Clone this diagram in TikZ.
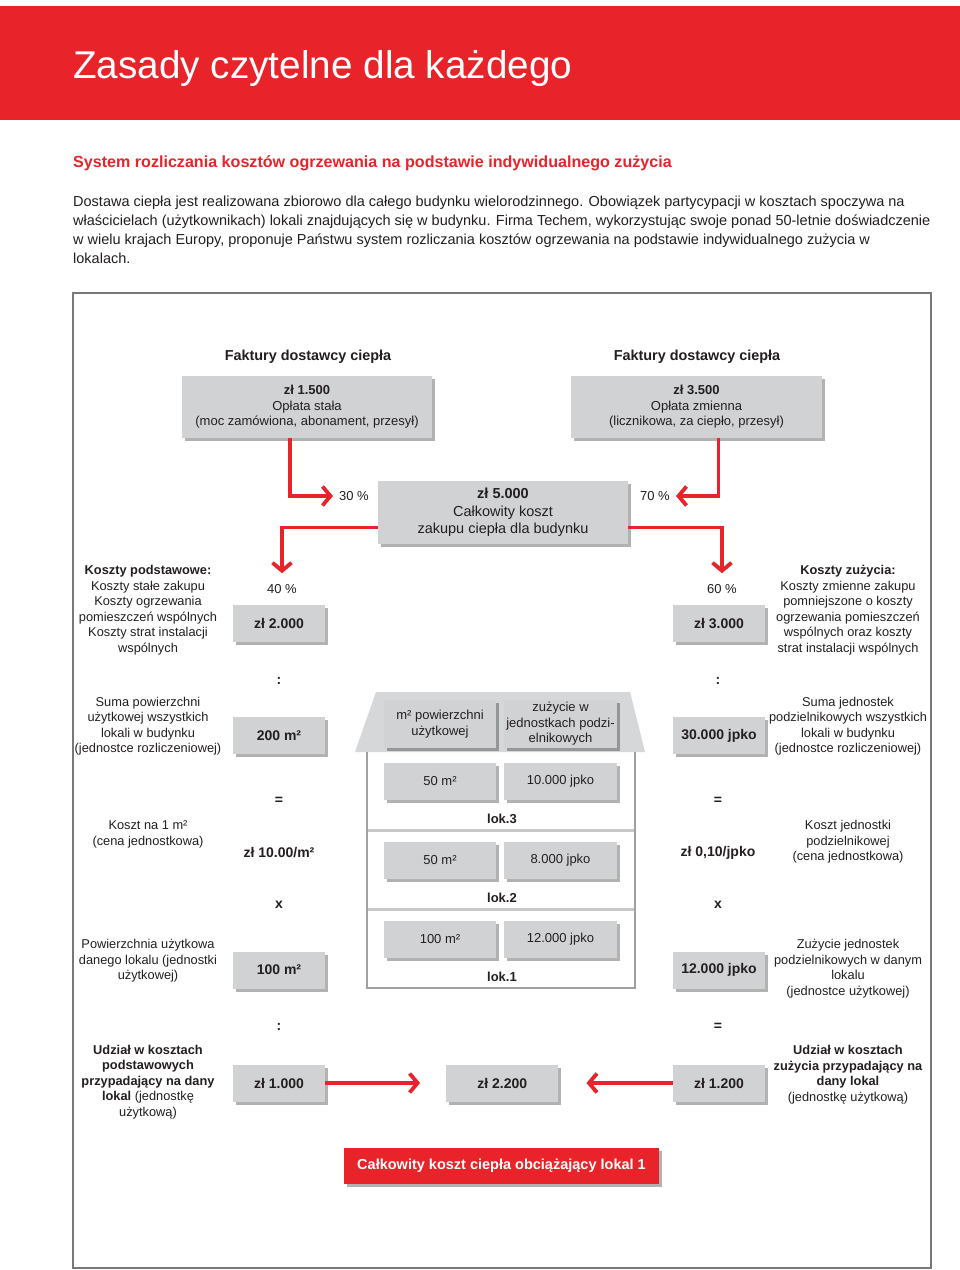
\documentclass[tikz,border=0pt]{standalone}
\usepackage{fontspec}
\setmainfont{Liberation Sans}
\usetikzlibrary{arrows.meta,shadows}
\definecolor{tred}{RGB}{232,35,42}
\definecolor{boxgray}{RGB}{209,210,212}
\definecolor{roofgray}{RGB}{214,215,216}
\definecolor{txt}{RGB}{35,31,32}
\definecolor{framec}{RGB}{120,120,120}
\definecolor{wallc}{RGB}{160,160,160}
\definecolor{floorc}{RGB}{200,200,200}
\newcommand\fsz[2]{\fontsize{#1}{#2}\selectfont}
\begin{document}
\begin{tikzpicture}[x=1pt,y=-1pt,
  every node/.style={text=txt},
  gbox/.style={fill=boxgray, inner sep=0pt, align=center, font=\fsz{13}{15.5},
    drop shadow={shadow xshift=3pt,shadow yshift=-3pt,opacity=0.3,fill=black}},
  sbox/.style={gbox, minimum width=92pt, minimum height=37pt, font=\bfseries\fsz{14}{16}},
  hbox/.style={gbox, minimum width=112pt, minimum height=37pt},
  lab/.style={align=center, font=\fsz{12.8}{15.5}, inner sep=0pt},
  op/.style={font=\bfseries\fsz{14}{16}, inner sep=0pt},
  pct/.style={font=\fsz{13}{15.5}, inner sep=0pt},
  para/.style={anchor=base west, inner sep=0pt, font=\fsz{14.5}{17}},
  arr/.style={draw=tred, line width=3.8pt, -{Straight Barb[length=8pt,width=19pt]}}
]
\useasboundingbox (0,0) rectangle (960,1270);
\fill[white] (0,0) rectangle (960,1270);

% header
\fill[tred] (0,6) rectangle (960,120);
\node[anchor=base west, text=white, font=\fsz{38.7}{40}, inner sep=0pt] (title) at (73,78) {Zasady czytelne dla każdego};
\node[anchor=base west, text=tred, font=\bfseries\fsz{16.1}{18}, inner sep=0pt] (sub) at (73,167) {System rozliczania kosztów ogrzewania na podstawie indywidualnego zużycia};
\node[para] (p1) at (73,206) {Dostawa ciepła jest realizowana zbiorowo dla całego budynku wielorodzinnego. Obowiązek partycypacji w kosztach spoczywa na};
\node[para] (p2) at (73,225.3) {właścicielach (użytkownikach) lokali znajdujących się w budynku. Firma Techem, wykorzystując swoje ponad 50-letnie doświadczenie};
\node[para] (p3) at (73,244.6) {w wielu krajach Europy, proponuje Państwu system rozliczania kosztów ogrzewania na podstawie indywidualnego zużycia w};
\node[para] (p4) at (73,263.9) {lokalach.};

% frame
\draw[framec, line width=1.3pt] (73,293) rectangle (931,1268);

% top
\node[font=\bfseries\fsz{14.4}{17}, inner sep=0pt] (fh1) at (308,357) {Faktury dostawcy ciepła};
\node[font=\bfseries\fsz{14.4}{17}, inner sep=0pt] (fh2) at (697,357) {Faktury dostawcy ciepła};
\node[gbox, minimum width=250pt, minimum height=62pt] (b1) at (307,407) {\textbf{zł 1.500}\\Opłata stała\\(moc zamówiona, abonament, przesył)};
\node[gbox, minimum width=251pt, minimum height=62pt] (b2) at (696.5,407) {\textbf{zł 3.500}\\Opłata zmienna\\(licznikowa, za ciepło, przesył)};
\node[gbox, minimum width=250pt, minimum height=63pt, font=\fsz{14.5}{17.5}] (b5) at (503,512.5) {\textbf{zł 5.000}\\Całkowity koszt\\zakupu ciepła dla budynku};
\node[pct] (p30) at (354,496) {30 \%};
\node[pct] (p70) at (655,496) {70 \%};
\node[pct] (p40) at (282,589) {40 \%};
\node[pct] (p60) at (722,589) {60 \%};
\draw[arr] ([xshift=-17pt]b1.south) |- ([xshift=-6pt]p30.west);
\draw[arr] ([xshift=22pt]b2.south) |- ([xshift=6pt]p70.east);
\draw[arr] ([yshift=-15pt]b5.west) -| ([yshift=11pt]p40.north);
\draw[arr] ([yshift=-15pt]b5.east) -| ([yshift=11pt]p60.north);

% left column
\node[lab] (l1) at (148,610) {\textbf{Koszty podstawowe:}\\Koszty stałe zakupu\\Koszty ogrzewania\\pomieszczeń wspólnych\\Koszty strat instalacji\\wspólnych};
\node[lab] (l2) at (148,726) {Suma powierzchni\\użytkowej wszystkich\\lokali w budynku\\(jednostce rozliczeniowej)};
\node[lab] (l3) at (148,834.5) {Koszt na 1 m²\\(cena jednostkowa)};
\node[lab] (l4) at (148,961) {Powierzchnia użytkowa\\danego lokalu (jednostki\\użytkowej)};
\node[lab] (l5) at (148,1082) {\textbf{Udział w kosztach}\\\textbf{podstawowych}\\\textbf{przypadający na dany}\\\textbf{lokal} (jednostkę\\użytkową)};

% right column
\node[lab] (r1) at (848,610) {\textbf{Koszty zużycia:}\\Koszty zmienne zakupu\\pomniejszone o koszty\\ogrzewania pomieszczeń\\wspólnych oraz koszty\\strat instalacji wspólnych};
\node[lab] (r2) at (848,726) {Suma jednostek\\podzielnikowych wszystkich\\lokali w budynku\\(jednostce rozliczeniowej)};
\node[lab] (r3) at (848,842) {Koszt jednostki\\podzielnikowej\\(cena jednostkowa)};
\node[lab] (r4) at (848,968.5) {Zużycie jednostek\\podzielnikowych w danym\\lokalu\\(jednostce użytkowej)};
\node[lab] (r5) at (848,1074.5) {\textbf{Udział w kosztach}\\\textbf{zużycia przypadający na}\\\textbf{dany lokal}\\(jednostkę użytkową)};

% value boxes
\node[sbox] (k2000) at (279,623.5) {zł 2.000};
\node[sbox] (k3000) at (719,623.5) {zł 3.000};
\node[sbox] (k200) at (279,735.5) {200 m²};
\node[sbox] (k30000) at (719,735.5) {30.000 jpko};
\node[sbox] (k100) at (279,970) {100 m²};
\node[sbox] (k12000) at (719,970) {12.000 jpko};
\node[sbox] (k1000) at (279,1083) {zł 1.000};
\node[sbox, minimum width=112pt] (k2200) at (502.3,1083) {zł 2.200};
\node[sbox] (k1200) at (719,1083) {zł 1.200};

% operators
\node[op] (o1) at (279,681) {:};
\node[op] (o2) at (718,681) {:};
\node[op] (o3) at (279,801) {=};
\node[op] (o4) at (718,801) {=};
\node[op] (o5) at (279,853) {zł 10.00/m²};
\node[op] (o6) at (718,853) {zł 0,10/jpko};
\node[op] (o7) at (279,905) {x};
\node[op] (o8) at (718,905) {x};
\node[op] (o9) at (279,1027) {:};
\node[op] (o10) at (718,1027) {=};

% bottom arrows
\draw[arr] (k1000.east) -- ([xshift=-26pt]k2200.west);
\draw[arr] (k1200.west) -- ([xshift=28pt]k2200.east);

% total
\node[gbox, fill=tred, text=white, font=\bfseries\fsz{14.5}{17}, minimum width=315pt, minimum height=36pt] (total) at (501.5,1166) {Całkowity koszt ciepła obciążający lokal 1};

% building
\fill[roofgray] (376,692) -- (630,692) -- (645,752) -- (355,752) -- cycle;
\draw[floorc, line width=3pt] (367,830) -- (635,830);
\draw[floorc, line width=3pt] (367,909) -- (635,909);
\draw[wallc, line width=1.3pt] (367,752) -- (367,988) -- (635,988) -- (635,752);
\node[hbox, minimum height=48pt] (h1) at (440,724) {m² powierzchni\\użytkowej};
\node[hbox, minimum width=113pt, minimum height=48pt] (h2) at (560.5,724) {zużycie w\\jednostkach podzi-\\elnikowych};
\node[hbox] (f3a) at (440,781.5) {50 m²};
\node[hbox, minimum width=113pt] (f3b) at (560.5,781.5) {10.000 jpko};
\node[hbox] (f2a) at (440,860) {50 m²};
\node[hbox, minimum width=113pt] (f2b) at (560.5,860) {8.000 jpko};
\node[hbox] (f1a) at (440,939) {100 m²};
\node[hbox, minimum width=113pt] (f1b) at (560.5,939) {12.000 jpko};
\node[op, font=\bfseries\fsz{13}{15.5}] (lok3) at (502,819) {lok.3};
\node[op, font=\bfseries\fsz{13}{15.5}] (lok2) at (502,898) {lok.2};
\node[op, font=\bfseries\fsz{13}{15.5}] (lok1) at (502,977) {lok.1};
\end{tikzpicture}
\end{document}
